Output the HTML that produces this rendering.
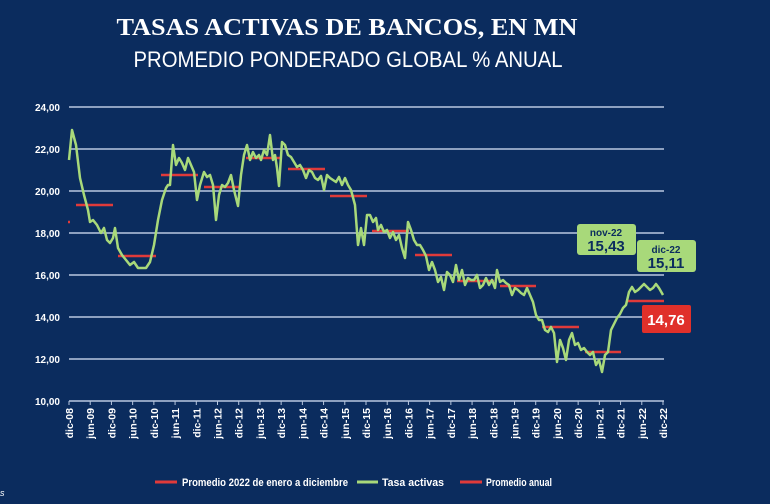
<!DOCTYPE html>
<html><head><meta charset="utf-8"><style>
html,body{margin:0;padding:0;background:#0b2c5e;}
svg{display:block;}
</style></head><body>
<svg width="770" height="504" viewBox="0 0 770 504" xmlns="http://www.w3.org/2000/svg">
<rect width="770" height="504" fill="#0b2c5e"/>
<text x="347" y="35" text-anchor="middle" font-family="Liberation Serif, serif" font-weight="bold" font-size="24" fill="#fff" textLength="461" lengthAdjust="spacingAndGlyphs">TASAS ACTIVAS DE BANCOS, EN MN</text>
<text x="348" y="67" text-anchor="middle" font-family="Liberation Sans, sans-serif" font-size="22" fill="#fff" textLength="429" lengthAdjust="spacingAndGlyphs">PROMEDIO PONDERADO GLOBAL % ANUAL</text>
<g stroke="#b9c8e0" stroke-width="1.5">
<line x1="69" y1="107" x2="664" y2="107"/><line x1="69" y1="149" x2="664" y2="149"/>
<line x1="69" y1="191" x2="664" y2="191"/><line x1="69" y1="233" x2="664" y2="233"/>
<line x1="69" y1="275" x2="664" y2="275"/><line x1="69" y1="317" x2="664" y2="317"/>
<line x1="69" y1="359" x2="664" y2="359"/><line x1="69" y1="401" x2="664" y2="401"/>
</g>
<g font-family="Liberation Sans, sans-serif" font-weight="bold" font-size="10" fill="#fff" text-anchor="end">
<text x="60" y="111">24,00</text><text x="60" y="153">22,00</text><text x="60" y="195">20,00</text><text x="60" y="237">18,00</text><text x="60" y="279">16,00</text><text x="60" y="321">14,00</text><text x="60" y="363">12,00</text><text x="60" y="405">10,00</text>
</g>
<g id="ticks" stroke="#b9c8e0" stroke-width="1"></g>
<g id="xl" font-family="Liberation Sans, sans-serif" font-weight="bold" font-size="10.5" fill="#fff"></g>
<g stroke="#e03a3a" stroke-width="2.5">
<line x1="76" y1="205" x2="113" y2="205"/><line x1="118" y1="256" x2="156" y2="256"/>
<line x1="161" y1="175" x2="198" y2="175"/><line x1="204" y1="187" x2="240" y2="187"/>
<line x1="246" y1="158" x2="282" y2="158"/><line x1="288" y1="169" x2="325" y2="169"/>
<line x1="330" y1="196" x2="367" y2="196"/><line x1="372" y1="231" x2="409" y2="231"/>
<line x1="415" y1="255" x2="452" y2="255"/><line x1="457" y1="281" x2="494" y2="281"/>
<line x1="500" y1="286" x2="536" y2="286"/><line x1="542" y1="327" x2="579" y2="327"/>
<line x1="585" y1="352" x2="621" y2="352"/><line x1="627" y1="301" x2="664" y2="301"/>
<line x1="68" y1="222" x2="70" y2="222"/>
</g>
<polyline fill="none" stroke="#a8d97a" stroke-width="2.5" stroke-linejoin="round" points="69,160 72,130 76,145 80,178 84,195 88,210 90,222 93,220 97,225 101,233 104,228 107,240 110,243 113,238 115,228 118,248 122,255 126,260 130,265 134,262 138,268 142,268 146,268 150,262 154,245 158,220 162,200 166,188 168,185 170,185 173,145 176,165 179,158 182,163 185,170 188,158 191,165 194,172 197,200 200,185 204,172 207,177 210,175 213,185 216,220 219,195 222,185 225,187 228,183 231,175 234,190 238,206 241,175 244,155 247,145 250,160 253,152 256,158 259,155 261,160 264,150 267,155 270,135 273,160 275,155 277,168 279,186 282,142 285,145 288,155 291,157 294,162 297,167 300,165 303,170 306,178 309,170 312,172 315,178 318,180 321,176 324,190 327,175 330,178 333,180 336,182 339,177 342,185 345,178 348,185 351,190 355,205 358,245 361,228 364,245 367,215 370,215 373,222 376,218 378,230 381,225 384,232 387,230 390,238 393,232 396,240 399,235 402,248 405,258 408,222 411,230 414,240 417,245 420,245 423,250 426,256 429,270 432,262 435,270 438,282 441,277 444,290 447,272 450,275 453,282 456,265 459,280 462,270 465,285 468,278 471,280 474,280 477,275 480,288 483,285 486,278 489,285 492,280 495,288 497,270 500,282 503,280 506,283 509,285 512,295 515,288 518,290 521,293 524,295 527,288 530,295 533,302 536,315 539,320 542,320 545,330 548,332 551,327 554,333 557,362 560,340 563,348 566,360 569,340 572,333 575,345 578,343 581,350 584,348 587,352 590,355 593,352 596,365 599,360 602,372 605,355 608,352 611,330 614,324 617,318 620,314 623,308 626,305 629,292 632,287 635,292 638,290 641,287 644,284 647,287 650,290 653,288 656,284 659,288 663,295"/>
<rect x="577" y="224" width="59" height="31" rx="3" fill="#a8d97a"/>
<text x="606" y="236" text-anchor="middle" font-family="Liberation Sans, sans-serif" font-weight="bold" font-size="10" fill="#0b2c5e">nov-22</text>
<text x="606" y="251" text-anchor="middle" font-family="Liberation Sans, sans-serif" font-weight="bold" font-size="15" fill="#0b2c5e">15,43</text>
<rect x="637" y="240" width="59" height="32" rx="3" fill="#a8d97a"/>
<text x="666" y="253" text-anchor="middle" font-family="Liberation Sans, sans-serif" font-weight="bold" font-size="10" fill="#0b2c5e">dic-22</text>
<text x="666" y="268" text-anchor="middle" font-family="Liberation Sans, sans-serif" font-weight="bold" font-size="15" fill="#0b2c5e">15,11</text>
<rect x="642" y="305" width="49" height="28" rx="2" fill="#e0302a"/>
<text x="666" y="325" text-anchor="middle" font-family="Liberation Sans, sans-serif" font-weight="bold" font-size="15" fill="#fff">14,76</text>
<g font-family="Liberation Sans, sans-serif" font-weight="bold" font-size="11" fill="#fff">
<line x1="155" y1="482" x2="177" y2="482" stroke="#e03a3a" stroke-width="3"/>
<text x="182" y="486" textLength="166" lengthAdjust="spacingAndGlyphs">Promedio 2022 de enero a diciembre</text>
<line x1="357" y1="482" x2="378" y2="482" stroke="#a8d97a" stroke-width="3"/>
<text x="382" y="486" textLength="62" lengthAdjust="spacingAndGlyphs">Tasa activas</text>
<line x1="460" y1="482" x2="482" y2="482" stroke="#e03a3a" stroke-width="3"/>
<text x="486" y="486" textLength="66" lengthAdjust="spacingAndGlyphs">Promedio anual</text>
<text x="0" y="496" font-style="italic" font-weight="normal" font-size="9">s</text>
</g>
</svg>
<script>
var t=document.getElementById('ticks'),l=document.getElementById('xl'),ns='http://www.w3.org/2000/svg';
var names=[];for(var y=8;y<=22;y++){var yy=(y<10?'0':'')+y;if(y>8)names.push('jun-'+yy);names.push('dic-'+yy);}
for(var i=0;i<names.length;i++){var x=69+i*594/28;
var ln=document.createElementNS(ns,'line');ln.setAttribute('x1',x);ln.setAttribute('x2',x);ln.setAttribute('y1',401);ln.setAttribute('y2',405);t.appendChild(ln);
var tx=document.createElementNS(ns,'text');tx.setAttribute('transform','translate('+(x+4)+',408) rotate(-90)');tx.setAttribute('text-anchor','end');tx.textContent=names[i];l.appendChild(tx);}
</script>
</body></html>
